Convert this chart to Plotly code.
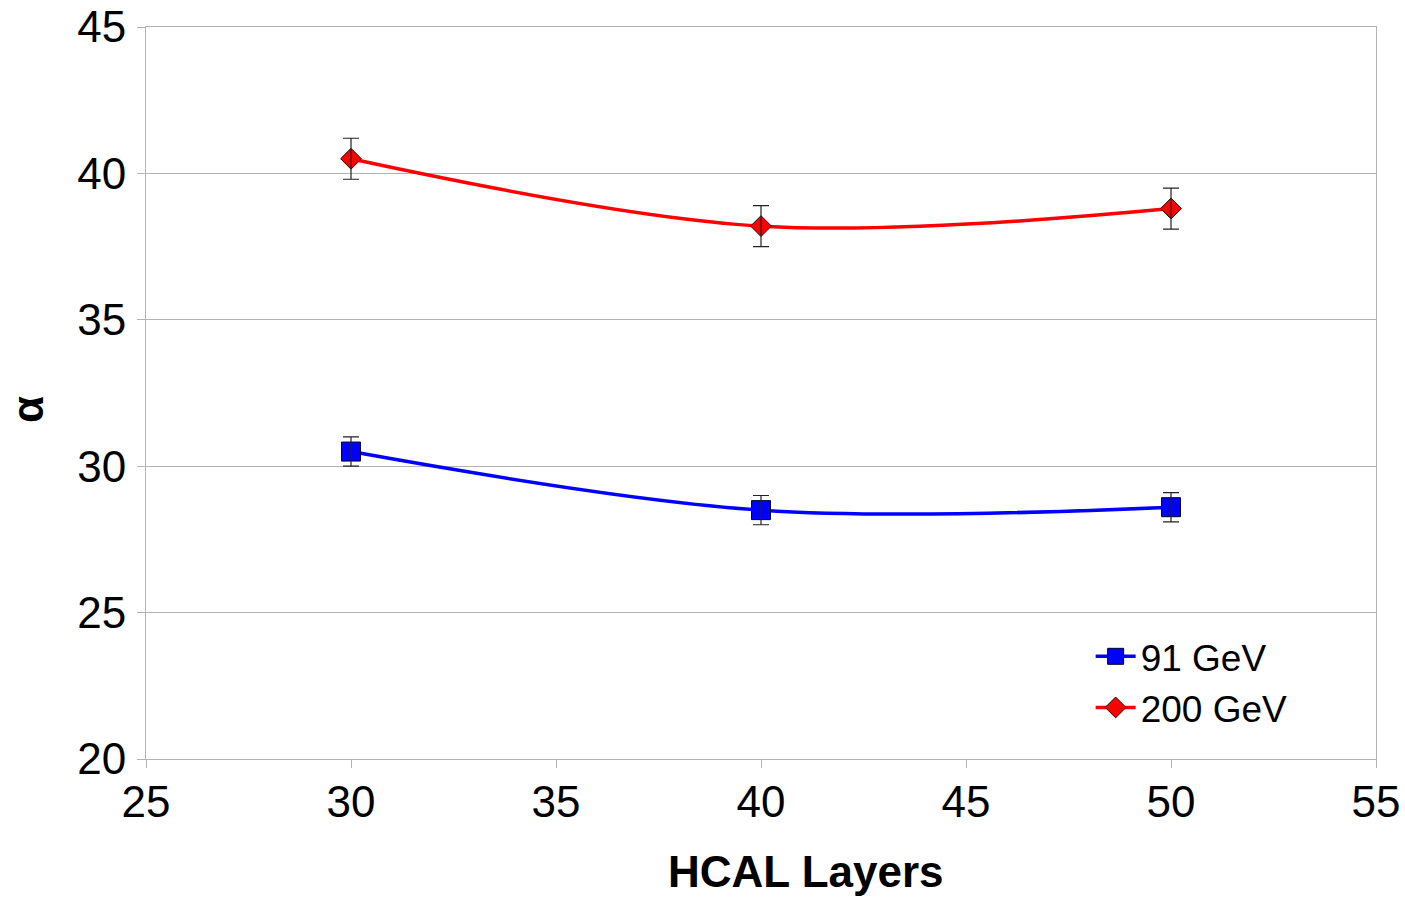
import plotly.graph_objects as go

layers = [30, 40, 50]
alpha_91 = [30.5, 28.5, 28.6]
err_91 = [0.5, 0.5, 0.5]
alpha_200 = [40.5, 38.2, 38.8]
err_200 = [0.7, 0.7, 0.7]

FONT = "Liberation Sans, Arial, sans-serif"

fig = go.Figure()
fig.add_trace(go.Scatter(
    x=layers, y=alpha_91, name="91 GeV", mode="lines+markers",
    line=dict(color="#0000ff", width=3.5, shape="spline", smoothing=1),
    marker=dict(symbol="square", size=19, color="#0000ff", line=dict(color="#000033", width=1)),
))
fig.add_trace(go.Scatter(
    x=layers, y=alpha_200, name="200 GeV", mode="lines+markers",
    line=dict(color="#ff0000", width=3.5, shape="spline", smoothing=1),
    marker=dict(symbol="diamond", size=16, color="#ff0000", line=dict(color="#330000", width=1)),
))
# error bars drawn on top of the markers
for ys, errs in ((alpha_91, err_91), (alpha_200, err_200)):
    fig.add_trace(go.Scatter(
        x=layers, y=ys, mode="markers", showlegend=False, hoverinfo="skip",
        marker=dict(size=1, opacity=0),
        error_y=dict(type="data", array=errs, color="#222222", thickness=1.2, width=8),
    ))

axis_common = dict(
    showline=True, linecolor="#b3b3b3", linewidth=1, mirror=True,
    ticks="outside", ticklen=8, tickcolor="#b3b3b3",
    tickfont=dict(family=FONT, size=44, color="#000000"),
    zeroline=False, automargin=False,
)
fig.update_xaxes(range=[25, 55], dtick=5, showgrid=False, ticklabelstandoff=-4, **axis_common)
fig.update_yaxes(range=[20, 45], dtick=5, showgrid=True, gridcolor="#b3b3b3", gridwidth=1,
                 ticklabelstandoff=2, **axis_common)

fig.add_annotation(text="<b>HCAL Layers</b>", xref="paper", yref="paper",
                   x=0.5366, y=-0.154, xanchor="center", yanchor="middle", showarrow=False,
                   font=dict(family=FONT, size=44, color="#000"))
fig.add_annotation(text="<b>α</b>", xref="paper", yref="paper",
                   x=-0.0959, y=0.477, xanchor="center", yanchor="middle", showarrow=False,
                   textangle=-90, font=dict(family=FONT, size=44, color="#000"))

fig.update_layout(
    width=1405, height=897,
    margin=dict(l=146, r=29, t=27, b=138),
    plot_bgcolor="#ffffff", paper_bgcolor="#ffffff",
    font=dict(family=FONT, color="#000"),
    legend=dict(x=0.768, y=0.182, xanchor="left", yanchor="top",
                font=dict(family=FONT, size=37, color="#000"),
                bgcolor="rgba(0,0,0,0)", itemwidth=40, tracegroupgap=0),
    showlegend=True,
)

fig.write_html("out.html")
